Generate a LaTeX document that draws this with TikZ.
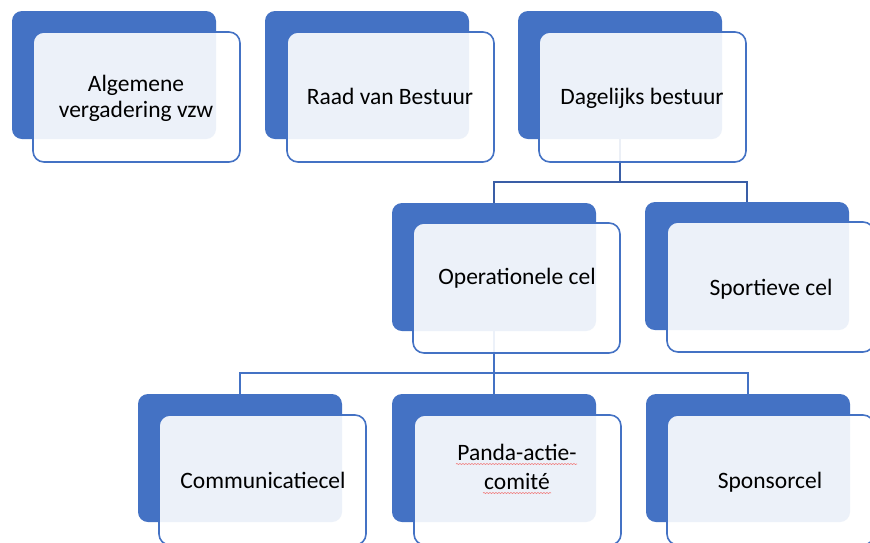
\documentclass[tikz,border=0pt]{standalone}
\usepackage{fontspec}
\setmainfont{Carlito}
\usetikzlibrary{decorations.pathmorphing}
\definecolor{accent}{HTML}{4472C4}
\definecolor{linedark}{HTML}{3A5EA6}
\definecolor{spellred}{HTML}{F08080}
\tikzset{
  backbox/.style={fill=accent, rounded corners=10pt, minimum width=204pt, minimum height=128pt,
    anchor=north west, inner sep=0pt, outer sep=0pt},
  frontbox/.style={draw=accent, line width=1.6pt, fill=white, fill opacity=0.9, text opacity=1,
    rounded corners=11pt, minimum width=207pt, minimum height=130pt, anchor=north west,
    inner sep=0pt, outer sep=0pt},
  lbl/.style={inner sep=0pt, align=center, text=black, font=\fontsize{23.5}{26}\selectfont},
  conn/.style={line width=1.8pt},
  squig/.style={draw=spellred, line width=0.6pt, decorate,
    decoration={snake, amplitude=0.6pt, segment length=3pt}}
}
\begin{document}
\begin{tikzpicture}[x=1pt,y=-1pt]
\useasboundingbox (0,0) rectangle (870,542);
\clip (0,0) rectangle (870,542);
\fill[white] (0,0) rectangle (870,542);
% back boxes
\node[backbox] (d1) at (12,11) {};
\node[backbox] (d2) at (265,11) {};
\node[backbox] (d3) at (518,11) {};
\node[backbox] (d4) at (392,203) {};
\node[backbox] (d5) at (645,202) {};
\node[backbox] (d6) at (138,394) {};
\node[backbox] (d7) at (392,394) {};
\node[backbox] (d8) at (646,394) {};
% connectors
\draw[conn, linedark] (d3.south) -- ++(0,43) coordinate (j1) -| (d4.north);
\draw[conn, linedark] (j1) -| (d5.north);
\draw[conn, accent] (d4.south) -- ++(0,42) coordinate (j2) -| (d6.north);
\draw[conn, accent] (j2) -| (d7.north);
\draw[conn, accent] (j2) -| (d8.north);
% front boxes
\node[frontbox] (f1) at (33,32) {};
\node[frontbox] (f2) at (287,32) {};
\node[frontbox] (f3) at (539,32) {};
\node[frontbox] (f4) at (413,223) {};
\node[frontbox] (f5) at (667,222) {};
\node[frontbox] (f6) at (159,415) {};
\node[frontbox] (f7) at (414,415) {};
\node[frontbox] (f8) at (667,415) {};
% labels
\node[lbl] (t1) at (136,98) {Algemene\\vergadering vzw};
\node[lbl, anchor=base] (t2) at (390,104) {Raad van Bestuur};
\node[lbl, anchor=base] (t3) at (642,104) {Dagelijks bestuur};
\node[lbl, anchor=base] (t4) at (517,284) {Operationele cel};
\node[lbl, anchor=base] (t5) at (771,295) {Sportieve cel};
\node[lbl, anchor=base] (t6) at (263,488) {Communicatiecel};
\node[lbl, font=\fontsize{23.5}{29}\selectfont] (t7) at (517,467) {Panda-actie-\\comité};
\node[lbl, anchor=base] (t8) at (770,488) {Sponsorcel};
% spell-check underlines
\draw[squig] (456,464) -- (577,464);
\draw[squig] (483,493) -- (551,493);
\end{tikzpicture}
\end{document}
